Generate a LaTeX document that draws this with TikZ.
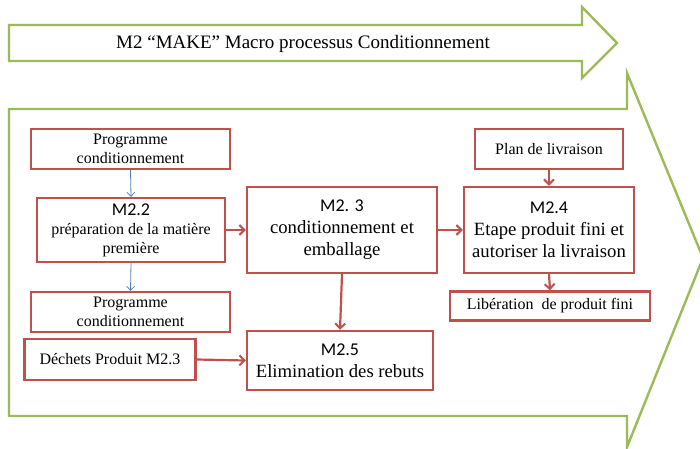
\documentclass[tikz,border=0pt]{standalone}
\usepackage{fontspec}
\setmainfont{Liberation Serif}
\newfontfamily\titlefont{Carlito}
\usetikzlibrary{arrows.meta}
\definecolor{boxred}{HTML}{C0504D}
\definecolor{frgreen}{HTML}{9BBB59}
\definecolor{flowblue}{HTML}{4F81BD}
\newcommand{\boxtitle}[1]{{\titlefont\fontsize{18}{21}\selectfont #1}}
\begin{document}
\begin{tikzpicture}[x=1pt,y=-1pt,
  frame/.style={draw=frgreen,line width=2.4pt,line join=miter},
  redbox/.style={draw=boxred,line width=2.4pt,align=center,inner sep=0pt},
  redarrow/.style={draw=boxred,line width=2.2pt,-{Straight Barb[length=5pt,width=10pt,line width=2pt]}},
  bluearrow/.style={draw=flowblue,line width=0.8pt,-{Straight Barb[length=4pt,width=8pt,line width=0.8pt]}},
  small/.style={font=\fontsize{16}{19}\selectfont},
  big/.style={font=\fontsize{18.7}{22}\selectfont}]
\useasboundingbox (0,0) rectangle (700,448);
% top arrow
\draw[frame] (9,25) -- (582,25) -- (582,7) -- (617,43) -- (582,78) -- (582,61) -- (9,61) -- cycle;
\node[font=\fontsize{19}{22}\selectfont] (title) at (303,44) {M2 “MAKE” Macro processus Conditionnement};
% big arrow
\draw[frame] (9,109) -- (627,109) -- (627,73) -- (703,258) -- (627,447) -- (627,416) -- (9,416) -- cycle;
% boxes
\node[redbox,small,minimum width=199pt,minimum height=40pt] (prog1) at (130.5,149) {Programme\\conditionnement};
\node[redbox,small,minimum width=188pt,minimum height=64pt] (m22) at (131,230) {\boxtitle{M2.2}\\préparation de la matière\\première};
\node[redbox,big,minimum width=190pt,minimum height=86pt] (m23) at (342,230) {\boxtitle{M2. 3}\\conditionnement et\\emballage};
\node[redbox,small,minimum width=148pt,minimum height=40pt] (plan) at (549,149) {Plan de livraison};
\node[redbox,big,minimum width=170pt,minimum height=86pt] (m24) at (549,230) {\boxtitle{M2.4}\\Etape produit fini et\\autoriser la livraison};
\node[redbox,small,minimum width=200pt,minimum height=29pt] (lib) at (550,306) {Libération\ \ de produit fini};
\node[redbox,small,minimum width=199pt,minimum height=40pt] (prog2) at (130.5,312) {Programme\\conditionnement};
\node[redbox,small,minimum width=171pt,minimum height=41pt] (dech) at (110,359.5) {Déchets Produit M2.3};
\node[redbox,big,minimum width=186pt,minimum height=59pt] (m25) at (340,360.5) {\boxtitle{M2.5}\\Elimination des rebuts};
% connectors
\draw[bluearrow] (prog1.south) -- (m22.north);
\draw[bluearrow] (m22.south) -- (prog2.north);
\draw[redarrow] (m22.east) -- (m23.west);
\draw[redarrow] (m23.east) -- (m24.west);
\draw[redarrow] (plan.south) -- (m24.north);
\draw[redarrow] (m24.south) -- (lib.north);
\draw[redarrow] (m23.south) -- (m25.north);
\draw[redarrow] (dech.east) -- (m25.west);
\end{tikzpicture}
\end{document}
